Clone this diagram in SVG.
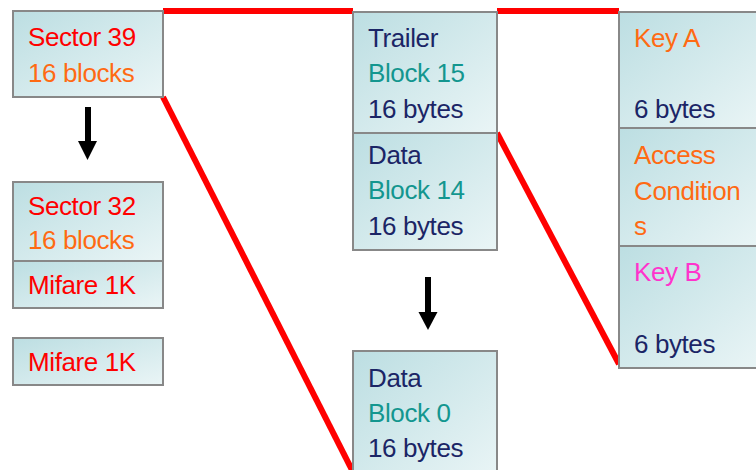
<svg xmlns="http://www.w3.org/2000/svg" width="756" height="470" viewBox="0 0 756 470">
<defs>
<linearGradient id="g" x1="0" y1="0" x2="1" y2="1">
<stop offset="0" stop-color="#BCDEE2"/>
<stop offset="1" stop-color="#EAF5F6"/>
</linearGradient>
<style>
.box{fill:url(#g);stroke:#888;stroke-width:2}
text{font-family:"Liberation Sans",Arial,sans-serif;font-size:26px;letter-spacing:-0.4px}
.r{fill:#FF0000}.o{fill:#FF6A13}.n{fill:#1B2566}.t{fill:#13968F}.m{fill:#FF33CC}
.red{stroke:#FF0000;stroke-width:6;fill:none}
.arr{stroke:#000;stroke-width:6;fill:none}
.head{fill:#000}
</style>
</defs>
<rect width="756" height="470" fill="#fff"/>
<g id="connectors">
<line class="red" x1="163" y1="11" x2="353" y2="11"/>
<line class="red" x1="497" y1="11" x2="619" y2="11"/>
<line class="red" x1="163" y1="97" x2="353" y2="472"/>
<line class="red" x1="497" y1="133" x2="619" y2="364"/>
<line class="arr" x1="88" y1="107" x2="88" y2="143"/>
<path class="head" d="M78,141 L97,141 L87.5,160 Z"/>
<line class="arr" x1="428" y1="277" x2="428" y2="314"/>
<path class="head" d="M418.5,312 L437.5,312 L428,330 Z"/>
</g>
<g id="sector39">
<rect class="box" x="13" y="11" width="150" height="86"/>
<text x="28" y="46" class="r">Sector 39</text>
<text x="28" y="82" class="o">16 blocks</text>
</g>
<g id="sector32">
<rect class="box" x="13" y="182" width="150" height="79"/>
<text x="28" y="215" class="r">Sector 32</text>
<text x="28" y="249" class="o">16 blocks</text>
</g>
<g id="mifare1">
<rect class="box" x="13" y="261" width="150" height="47"/>
<text x="28" y="294" class="r">Mifare 1K</text>
</g>
<g id="mifare2">
<rect class="box" x="13" y="338" width="150" height="47"/>
<text x="28" y="371" class="r">Mifare 1K</text>
</g>
<g id="trailer">
<rect class="box" x="353" y="12" width="144" height="121"/>
<text x="368" y="47" class="n">Trailer</text>
<text x="368" y="82" class="t">Block 15</text>
<text x="368" y="118" class="n">16 bytes</text>
</g>
<g id="block14">
<rect class="box" x="353" y="133" width="144" height="117"/>
<text x="368" y="164" class="n">Data</text>
<text x="368" y="199" class="t">Block 14</text>
<text x="368" y="235" class="n">16 bytes</text>
</g>
<g id="block0">
<rect class="box" x="353" y="351" width="144" height="130"/>
<text x="368" y="387" class="n">Data</text>
<text x="368" y="422" class="t">Block 0</text>
<text x="368" y="457" class="n">16 bytes</text>
</g>
<g id="keyA">
<rect class="box" x="619" y="12" width="145" height="116"/>
<text x="634" y="47" class="o">Key A</text>
<text x="634" y="118" class="n">6 bytes</text>
</g>
<g id="access">
<rect class="box" x="619" y="128" width="145" height="118"/>
<text x="634" y="164" class="o">Access</text>
<text x="634" y="200" class="o">Condition</text>
<text x="634" y="235" class="o">s</text>
</g>
<g id="keyB">
<rect class="box" x="619" y="246" width="145" height="122"/>
<text x="634" y="281" class="m">Key B</text>
<text x="634" y="353" class="n">6 bytes</text>
</g>
</svg>
